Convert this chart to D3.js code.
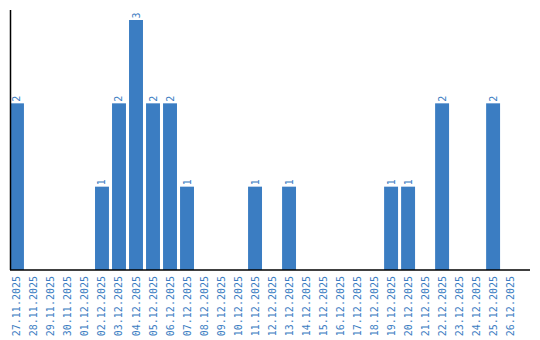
<!DOCTYPE html>
<html>
<head>
<meta charset="utf-8">
<script src="https://cdn.jsdelivr.net/npm/d3@7"></script>
<style>
  body { margin: 0; background: #fff; }
  text { font-family: "DejaVu Sans Mono", monospace; font-size: 10px; fill: #3b7dc2; }
</style>
</head>
<body>
<svg id="chart" width="540" height="340"></svg>
<script>
// Datas e contagens
const datas = ["27.11.2025", "28.11.2025", "29.11.2025", "30.11.2025", "01.12.2025",
  "02.12.2025", "03.12.2025", "04.12.2025", "05.12.2025", "06.12.2025", "07.12.2025",
  "08.12.2025", "09.12.2025", "10.12.2025", "11.12.2025", "12.12.2025", "13.12.2025",
  "14.12.2025", "15.12.2025", "16.12.2025", "17.12.2025", "18.12.2025", "19.12.2025",
  "20.12.2025", "21.12.2025", "22.12.2025", "23.12.2025", "24.12.2025", "25.12.2025",
  "26.12.2025"];
const contagens = [2, 0, 0, 0, 0, 1, 2, 3, 2, 2, 1, 0, 0, 0, 1, 0, 1, 0, 0, 0, 0, 0, 1, 1, 0, 2, 0, 0, 2, 0];

const cor = "#3b7dc2";
const svg = d3.select("#chart");

const x = d3.scaleBand()
  .domain(datas)
  .range([10, 530])
  .paddingInner(0.18)
  .paddingOuter(0.38)
  .align(0);

const y = d3.scaleLinear()
  .domain([0, d3.max(contagens) * 1.04])
  .range([270, 10]);

const dados = datas.map((d, i) => ({ data: d, valor: contagens[i] }));

// Barras
svg.selectAll("rect")
  .data(dados.filter(d => d.valor > 0))
  .enter()
  .append("rect")
  .attr("x", d => x(d.data))
  .attr("y", d => y(d.valor))
  .attr("width", x.bandwidth())
  .attr("height", d => y(0) - y(d.valor))
  .attr("fill", cor);

// Rótulos de valor
svg.selectAll("text.valor")
  .data(dados.filter(d => d.valor > 0))
  .enter()
  .append("text")
  .attr("class", "valor")
  .attr("transform", d => `translate(${x(d.data) + x.bandwidth() / 2 + 3.5},${y(d.valor) - 1.5}) rotate(-90)`)
  .text(d => d.valor);

// Eixo X
const eixoX = svg.append("g")
  .attr("transform", "translate(0,270)")
  .call(d3.axisBottom(x).tickSize(0).tickPadding(0));
eixoX.select(".domain").attr("stroke", "#000").attr("stroke-width", 1.5).attr("d", "M10,0H530");
eixoX.selectAll("text")
  .attr("font-family", null)
  .attr("font-size", null)
  .attr("fill", null)
  .attr("y", 0)
  .attr("dy", null)
  .attr("text-anchor", "end")
  .attr("transform", `translate(3.5,6) rotate(-90)`);

// Eixo Y (apenas a linha)
svg.append("line")
  .attr("x1", 10.5).attr("x2", 10.5)
  .attr("y1", 10).attr("y2", 270)
  .attr("stroke", "#000")
  .attr("stroke-width", 1.5);
</script>
</body>
</html>
